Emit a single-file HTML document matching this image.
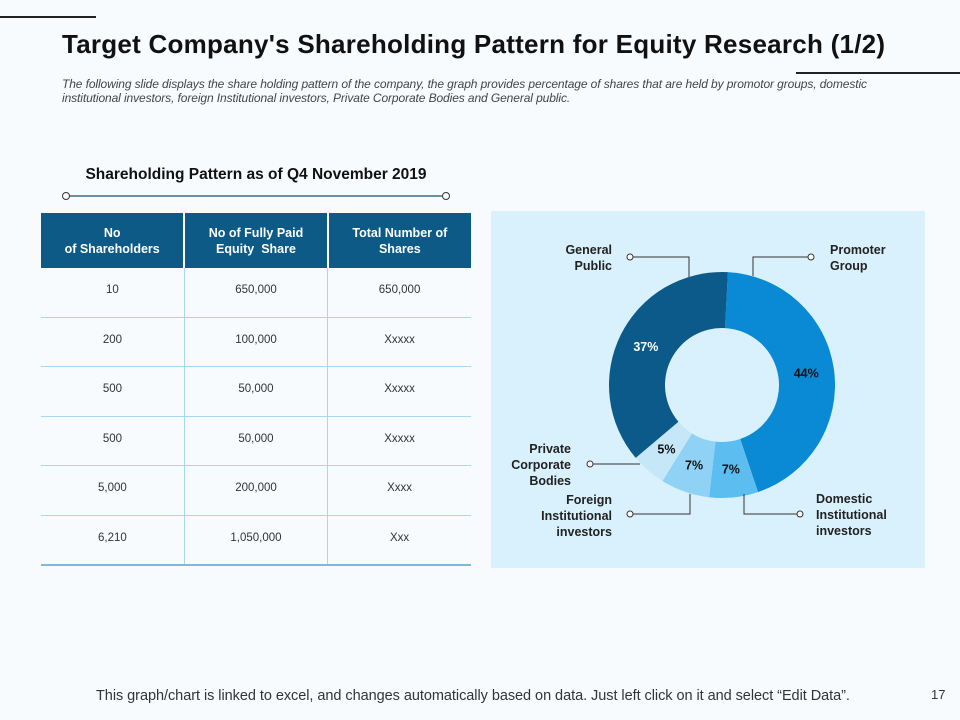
<!DOCTYPE html>
<html><head><meta charset="utf-8"><style>
body{margin:0;width:960px;height:720px;background:#f7fbfe;font-family:"Liberation Sans",Arial,sans-serif;position:relative;overflow:hidden}
.abs{position:absolute}
table{border-collapse:collapse;position:absolute;left:41px;top:213px;width:430px;table-layout:fixed}
th{background:#0d5a87;color:#fff;font-size:12.5px;font-weight:bold;height:55px;border-left:2px solid #fff;line-height:16px;padding:0}
th:first-child{border-left:none}
td{height:44.5px;text-align:center;font-size:11.5px;color:#333;border-bottom:1px solid #a8d8ee;border-left:1px solid #a8d8ee;padding:0 0 4px 0}
td:first-child{border-left:none}
tr:last-child td{border-bottom:2px solid #7fb9d6}
.lbl{position:absolute;font-size:12.5px;font-weight:bold;color:#222;line-height:16px}
</style></head><body>
<div class="abs" style="left:0;top:16px;width:96px;height:2px;background:#222"></div>
<div class="abs" style="left:796px;top:72px;width:164px;height:2px;background:#222"></div>
<div class="abs" style="left:62px;top:29px;font-size:26px;font-weight:bold;color:#111;letter-spacing:0.25px;white-space:nowrap">Target Company's Shareholding Pattern for Equity Research (1/2)</div>
<div class="abs" style="left:62px;top:77px;width:880px;font-size:12px;font-style:italic;color:#444;line-height:14px;letter-spacing:-0.1px;white-space:nowrap">The following slide displays the share holding pattern of the company, the graph provides percentage of shares that are held by promotor groups, domestic<br>institutional investors, foreign Institutional investors, Private Corporate Bodies and General public.</div>
<div class="abs" style="left:41px;width:430px;top:166px;text-align:center;font-size:15.5px;font-weight:bold;color:#111">Shareholding Pattern as of Q4 November 2019</div>
<svg class="abs" style="left:0;top:0" width="500" height="210">
<line x1="69" y1="196" x2="442" y2="196" stroke="#1d4f6e" stroke-width="1.2"/>
<circle cx="66" cy="196" r="3.5" fill="#fff" stroke="#333"/><circle cx="446" cy="196" r="3.5" fill="#fff" stroke="#333"/>
</svg>
<table>
<tr><th>No<br>of Shareholders</th><th>No of Fully Paid<br>Equity&nbsp; Share</th><th>Total Number of<br>Shares</th></tr>
<tr><td>10</td><td>650,000</td><td>650,000</td></tr>
<tr><td>200</td><td>100,000</td><td>Xxxxx</td></tr>
<tr><td>500</td><td>50,000</td><td>Xxxxx</td></tr>
<tr><td>500</td><td>50,000</td><td>Xxxxx</td></tr>
<tr><td>5,000</td><td>200,000</td><td>Xxxx</td></tr>
<tr><td>6,210</td><td>1,050,000</td><td>Xxx</td></tr>
</table>
<div class="abs" style="left:491px;top:211px;width:434px;height:357px;background:#d8f1fc"></div>
<svg id="donut" class="abs" style="left:0;top:0" width="960" height="720">
<g id="slices"></g>
<g fill="none" stroke="#333" stroke-width="1">
<polyline points="630,257 689,257 689,277"/><polyline points="808,257 753,257 753,276"/>
<polyline points="593,464 640,464"/><polyline points="631,514 690,514 690,494"/><polyline points="797,514 744,514 744,494"/>
</g>
<g fill="#fff" stroke="#333"><circle cx="630" cy="257" r="3"/><circle cx="811" cy="257" r="3"/><circle cx="590" cy="464" r="3"/><circle cx="630" cy="514" r="3"/><circle cx="800" cy="514" r="3"/></g>
</svg>
<div class="lbl" style="left:540px;top:242px;width:72px;text-align:right">General<br>Public</div>
<div class="lbl" style="left:830px;top:242px">Promoter<br>Group</div>
<div class="lbl" style="left:490px;top:441px;width:81px;text-align:right">Private<br>Corporate<br>Bodies</div>
<div class="lbl" style="left:520px;top:492px;width:92px;text-align:right">Foreign<br>Institutional<br>investors</div>
<div class="lbl" style="left:816px;top:491px">Domestic<br>Institutional<br>investors</div>
<div class="abs" style="left:96px;top:688px;font-size:14.5px;color:#333;letter-spacing:-0.05px;white-space:nowrap">This graph/chart is linked to excel, and changes automatically based on data. Just left click on it and select “Edit Data”.</div>
<div class="abs" style="left:931px;top:687px;font-size:13px;color:#333">17</div>
<script>
const categories=["Promoter Group","Domestic Institutional investors","Foreign Institutional investors","Private Corporate Bodies","General Public"];
const values=[44,7,7,5,37];
const valueLabels=["44%","7%","7%","5%","37%"];
const colors=["#0a8ad4","#5cbdf0","#90d2f6","#c6e7f8","#0b5a89"];
const labelColors=["#111","#111","#111","#111","#fff"];
const cx=722,cy=385,R=113,r=57,startDeg=3;
const g=document.getElementById('slices');
const total=values.reduce((a,b)=>a+b,0);
let a0=startDeg*Math.PI/180;
function pt(rad,a){return [cx+rad*Math.sin(a),cy-rad*Math.cos(a)];}
values.forEach((v,i)=>{
 const a1=a0+v/total*2*Math.PI;
 const large=(a1-a0)>Math.PI?1:0;
 const p1=pt(R,a0),p2=pt(R,a1),p3=pt(r,a1),p4=pt(r,a0);
 const p=document.createElementNS('http://www.w3.org/2000/svg','path');
 p.setAttribute('d',`M${p1} A${R},${R} 0 ${large} 1 ${p2} L${p3} A${r},${r} 0 ${large} 0 ${p4}Z`);
 p.setAttribute('fill',colors[i]);
 
 
 g.appendChild(p);
 const m=(a0+a1)/2,lp=pt((R+r)/2,m);
 const t=document.createElementNS('http://www.w3.org/2000/svg','text');
 t.setAttribute('x',lp[0]);t.setAttribute('y',lp[1]+4);
 t.setAttribute('text-anchor','middle');t.setAttribute('font-size','12.5');t.setAttribute('font-weight','bold');
 t.setAttribute('font-family','Liberation Sans, sans-serif');t.setAttribute('fill',labelColors[i]);
 
 
 t.textContent=valueLabels[i];
 g.appendChild(t);
 a0=a1;
});
</script>
</body></html>
